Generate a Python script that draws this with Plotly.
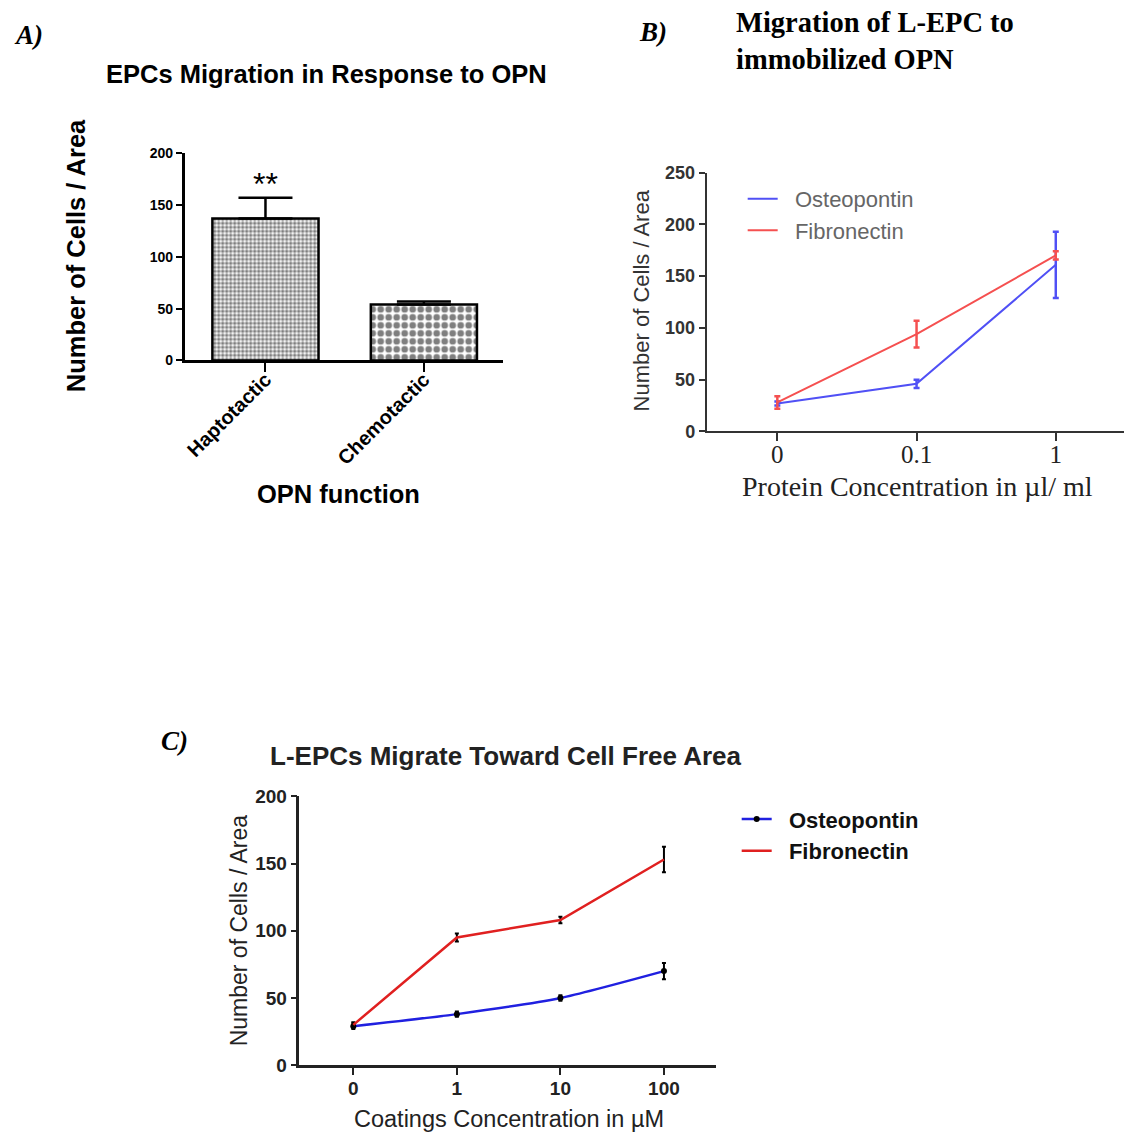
import plotly.graph_objects as go

W, H = 1124, 1142


def fx(x):
    return x / W


def fy(y):
    return 1 - y / H


# ---------------- data ----------------
# Panel A
a_categories = ["Haptotactic", "Chemotactic"]
a_values = [137, 54]
a_err_plus = [20, 3]
a_yticks = [0, 50, 100, 150, 200]

# Panel B
b_x_labels = ["0", "0.1", "1"]
b_osteo = [27, 46, 161]
b_osteo_err = [2, 4, 32]
b_fibro = [28, 94, 170]
b_fibro_err = [6, 13, 4]
b_yticks = [0, 50, 100, 150, 200, 250]

# Panel C
c_x_labels = ["0", "1", "10", "100"]
c_osteo = [29, 38, 50, 70]
c_osteo_err = [2, 2, 2, 6]
c_fibro = [30, 95, 108, 153]
c_fibro_err = [2, 3, 2.5, 9.5]
c_yticks = [0, 50, 100, 150, 200]

ARIAL = "Arial, Liberation Sans, sans-serif"
TIMES = "Times New Roman, Liberation Serif, serif"
NB = "\u00a0\u00a0"

fig = go.Figure()

# ---------------- Panel A ----------------
fig.add_trace(go.Bar(
    x=a_categories, y=a_values, width=0.67,
    xaxis="x", yaxis="y", showlegend=False,
    marker=dict(
        color="white",
        line=dict(color="black", width=2.5),
        pattern=dict(shape=".", fgcolor="black", bgcolor="white",
                     size=[4, 8], solidity=[0.6, 0.55]),
    ),
    error_y=dict(type="data", symmetric=False, array=a_err_plus,
                 arrayminus=[0, 0], color="black", thickness=2.5, width=27),
))

# ---------------- Panel B ----------------
BLUE_B = "#5050f5"
RED_B = "#f55050"
fig.add_trace(go.Scatter(
    x=b_x_labels, y=b_osteo, mode="lines", name=NB + "Osteopontin",
    xaxis="x2", yaxis="y2", legend="legend",
    line=dict(color=BLUE_B, width=2),
    error_y=dict(type="data", array=b_osteo_err, color=BLUE_B,
                 thickness=2.5, width=3),
))
fig.add_trace(go.Scatter(
    x=b_x_labels, y=b_fibro, mode="lines", name=NB + "Fibronectin",
    xaxis="x2", yaxis="y2", legend="legend",
    line=dict(color=RED_B, width=2),
    error_y=dict(type="data", array=b_fibro_err, color=RED_B,
                 thickness=2.5, width=3),
))

# ---------------- Panel C ----------------
fig.add_trace(go.Scatter(
    x=c_x_labels, y=c_osteo, mode="lines+markers", name=NB + "Osteopontin",
    xaxis="x3", yaxis="y3", legend="legend2",
    line=dict(color="#2020e0", width=2.5, shape="spline", smoothing=0.6),
    marker=dict(color="black", size=6),
    error_y=dict(type="data", array=c_osteo_err, color="black",
                 thickness=2, width=2),
))
fig.add_trace(go.Scatter(
    x=c_x_labels, y=c_fibro, mode="lines", name=NB + "Fibronectin",
    xaxis="x3", yaxis="y3", legend="legend2",
    line=dict(color="#e02020", width=2.5),
    error_y=dict(type="data", array=c_fibro_err, color="black",
                 thickness=2, width=2),
))

# ---------------- axes ----------------
axis_common = dict(showgrid=False, zeroline=False, showline=True,
                   ticks="outside", mirror=False)

layout = dict(
    width=W, height=H,
    margin=dict(l=0, r=0, t=0, b=0),
    paper_bgcolor="white", plot_bgcolor="white",
    barmode="overlay",
    # Panel A
    xaxis=dict(**axis_common, domain=[fx(183), fx(502)], anchor="y",
               type="category", range=[-0.51, 1.5],
               linecolor="black", linewidth=2.5, tickcolor="black",
               ticklen=9, tickwidth=2, tickangle=-45, ticklabelstandoff=-12,
               tickfont=dict(family=ARIAL, size=20, color="black",
                             weight="bold")),
    yaxis=dict(**axis_common, domain=[fy(357), fy(146)], anchor="x",
               range=[0, 200], tickvals=a_yticks,
               linecolor="black", linewidth=2.5, tickcolor="black",
               ticklen=6, tickwidth=2,
               tickfont=dict(family=ARIAL, size=14, color="black",
                             weight="bold")),
    # Panel B
    xaxis2=dict(**axis_common, domain=[fx(706), 1.0], anchor="y2",
                type="category", range=[-0.507, 2.49],
                linecolor="#333333", linewidth=2, tickcolor="#333333",
                ticklen=8, tickwidth=1.5, ticklabelstandoff=-8,
                tickfont=dict(family=TIMES, size=25, color="#222222")),
    yaxis2=dict(**axis_common, domain=[fy(429.3), fy(165.7)], anchor="x2",
                range=[0, 250], tickvals=b_yticks,
                linecolor="#333333", linewidth=2, tickcolor="#333333",
                ticklen=6, tickwidth=1.5,
                tickfont=dict(family=ARIAL, size=18, color="#333333",
                              weight="bold")),
    # Panel C
    xaxis3=dict(**axis_common, domain=[fx(298), fx(715)], anchor="y3",
                type="category", range=[-0.52, 3.5],
                linecolor="#222222", linewidth=2.5, tickcolor="#222222",
                ticklen=7, tickwidth=2, ticklabelstandoff=-3,
                tickfont=dict(family=ARIAL, size=19, color="#222222",
                              weight="bold")),
    yaxis3=dict(**axis_common, domain=[fy(1075), fy(801)], anchor="x3",
                range=[0, 200], tickvals=c_yticks,
                linecolor="#222222", linewidth=2.5, tickcolor="#222222",
                ticklen=6, tickwidth=2,
                tickfont=dict(family=ARIAL, size=19, color="#222222",
                              weight="bold")),
    legend=dict(x=fx(742), y=fy(171), xanchor="left", yanchor="top",
                bgcolor="rgba(0,0,0,0)", tracegroupgap=0,
                itemwidth=30,
                font=dict(family=ARIAL, size=22, color="#666666")),
    legend2=dict(x=fx(736), y=fy(803), xanchor="left", yanchor="top",
                 bgcolor="rgba(0,0,0,0)", tracegroupgap=0,
                 itemwidth=30,
                 font=dict(family=ARIAL, size=22, color="#111111",
                           weight="bold")),
)
fig.update_layout(**layout)


def ann(text, x, y, size, family=ARIAL, color="black", bold=False,
        italic=False, angle=0, xanchor="center", yanchor="middle", align="center"):
    fig.add_annotation(
        text=text, x=fx(x), y=fy(y), xref="paper", yref="paper",
        showarrow=False, textangle=angle, xanchor=xanchor, yanchor=yanchor,
        align=align,
        font=dict(family=family, size=size, color=color,
                  weight="bold" if bold else "normal",
                  style="italic" if italic else "normal"),
    )


# Panel labels
ann("A)", 10, 25, 27, family=TIMES, bold=True, italic=True, xanchor="left")
ann("B)", 636, 22, 27, family=TIMES, bold=True, italic=True, xanchor="left")
ann("C)", 157, 745, 27, family=TIMES, bold=True, italic=True, xanchor="left")

# Panel A texts
ann("EPCs Migration in Response to OPN", 325, 65, 25.5, bold=True)
ann("Number of Cells / Area", 75, 250, 25.5, bold=True, angle=-90)
ann("OPN function", 337, 493, 25.5, bold=True)
ann("**", 264, 177, 32, bold=False)

# Panel B texts
ann("Migration of L-EPC to<br>immobilized OPN", 733, 32, 28.5, family=TIMES,
    bold=True, xanchor="left", align="left")
ann("Number of Cells / Area", 641, 296, 22, color="#333333", angle=-90)
ann("Protein Concentration in µl/ ml", 917, 485, 28, family=TIMES,
    color="#222222")

# Panel C texts
ann("L-EPCs Migrate Toward Cell Free Area", 505, 760, 26, bold=True,
    color="#222222")
ann("Number of Cells / Area", 237, 938, 23, color="#222222", angle=-90)
ann("Coatings Concentration in µM", 508, 1130, 23.5, color="#222222")

fig.write_html("out.html")
